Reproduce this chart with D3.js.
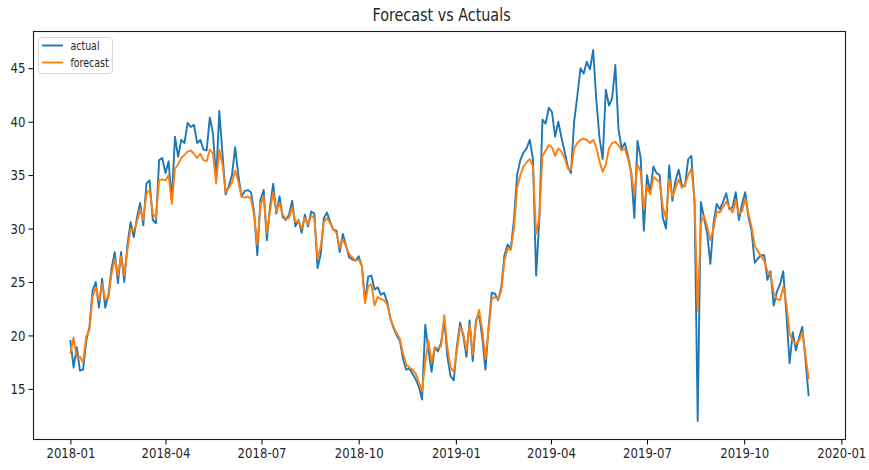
<!DOCTYPE html>
<html>
<head>
<meta charset="utf-8">
<script src="https://cdn.jsdelivr.net/npm/d3@7"></script>
<style>
  html, body { margin: 0; padding: 0; background: #fff; }
  svg { display: block; }
  text { font-family: "DejaVu Sans", sans-serif; fill: #262626; }
</style>
</head>
<body>
<svg id="chart" width="869" height="470"></svg>
<script>
// Series sampled every 3 days starting 2018-01-01
const startDate = new Date(2018, 0, 1);
const stepDays = 3;

const actual = [
  19.5, 17.0, 18.9, 16.7, 16.8, 19.5, 20.8, 24.2, 25.0, 22.6,
  25.3, 22.6, 23.8, 26.3, 27.8, 24.9, 27.8, 25.0, 28.5, 30.6,
  29.2, 31.0, 32.4, 30.3, 34.2, 34.5, 30.8, 30.5, 36.4, 36.6,
  35.2, 36.3, 32.6, 38.6, 36.7, 38.3, 38.0, 39.9, 39.5, 39.7,
  38.0, 38.3, 37.4, 37.3, 40.4, 38.9, 34.6, 41.0, 37.0, 33.2,
  34.0, 35.0, 37.6, 35.0, 33.0, 33.5, 33.6, 33.4, 31.5, 27.5,
  32.7, 33.6, 28.9, 32.0, 34.2, 31.4, 33.0, 31.1, 30.8, 31.3,
  32.6, 30.2, 30.8, 29.6, 31.3, 30.2, 31.6, 31.4, 26.3, 27.6,
  31.0, 31.5, 30.6, 29.9, 29.8, 27.8, 29.5, 28.4, 27.3, 27.1,
  27.0, 27.4, 26.5, 23.2, 25.5, 25.6, 24.3, 24.5, 23.8, 24.0,
  23.1, 21.6, 20.7, 20.0, 19.5, 17.8, 16.8, 16.9, 16.4, 15.9,
  15.2, 14.0, 21.0, 18.6, 16.6, 18.9, 18.5, 19.3, 21.5, 18.0,
  16.2, 15.8, 19.0, 21.2, 20.0, 18.0, 21.4, 17.6, 21.4, 22.0,
  19.8, 16.8, 20.8, 24.0, 23.9, 23.3, 24.5, 27.5, 28.5, 28.1,
  30.8, 35.0, 36.4, 37.1, 37.5, 38.3, 36.5, 25.6, 30.8, 40.2,
  39.8, 41.3, 40.9, 38.6, 40.0, 38.5, 37.2, 35.8, 35.2, 40.0,
  42.4, 45.0, 44.5, 45.6, 44.9, 46.7, 42.0, 38.5, 36.5, 43.0,
  41.5, 42.2, 45.3, 39.3, 37.5, 38.0, 36.8, 35.3, 31.0, 38.2,
  36.6, 29.8, 35.0, 33.4, 35.8, 35.2, 35.0, 31.0, 30.0, 35.9,
  32.6, 34.5, 35.5, 34.0, 34.0, 36.5, 36.8, 32.4, 12.0, 32.5,
  31.0, 29.5, 26.7, 30.5, 32.3, 31.8, 32.5, 33.3, 31.8, 32.0,
  33.4, 30.8, 32.3, 33.4, 31.1, 29.8, 26.8, 27.2, 27.5, 27.5,
  25.2, 26.0, 22.8, 24.1, 24.8, 26.0, 22.0, 17.4, 20.3, 18.6,
  19.8, 20.8, 17.8, 14.4
];

const forecast = [
  18.4, 19.8, 17.9, 18.0, 17.5, 19.9, 20.5, 23.6, 24.5, 23.3,
  24.8, 23.4, 23.5, 25.8, 27.2, 25.6, 27.4, 25.6, 28.0, 30.0,
  29.8, 30.6, 31.8, 30.8, 33.3, 33.6, 31.4, 31.0, 34.5, 34.6,
  34.5, 35.0, 32.3, 35.6, 36.0, 36.6, 36.9, 37.2, 37.3, 37.0,
  36.6, 37.0, 36.4, 36.3, 37.4, 37.0, 34.2, 37.4, 36.0, 33.4,
  33.8, 34.3, 35.4, 34.4, 33.0, 32.9, 33.0, 32.8, 31.2, 28.5,
  32.2, 33.0, 29.6, 31.6, 33.4, 31.6, 32.4, 31.3, 30.9, 31.0,
  32.0, 30.6, 30.7, 30.0, 31.0, 30.4, 31.2, 31.0, 27.2, 28.3,
  30.6, 31.0, 30.5, 29.9, 29.6, 28.2, 29.0, 28.3, 27.6, 27.3,
  27.0, 27.1, 26.5, 23.0, 24.6, 24.8, 22.8, 23.6, 23.4, 23.3,
  22.9, 21.6, 20.8, 20.2, 19.7, 18.3, 17.3, 17.0, 16.8, 16.4,
  15.6, 14.8, 17.5, 19.5, 17.5, 18.8, 18.8, 19.0, 21.9, 18.8,
  17.0, 16.6, 18.6, 20.8, 20.2, 18.6, 21.0, 18.2, 21.2, 22.4,
  20.5, 17.8, 20.5, 23.4, 23.6, 23.4, 24.2, 27.0, 28.1, 28.0,
  30.0, 33.8, 35.0, 35.8, 36.2, 36.5, 35.8, 29.5, 31.0, 36.8,
  37.3, 37.8, 37.6, 36.8, 37.5, 37.2, 36.6, 35.6, 35.5, 37.5,
  38.0, 38.3, 38.4, 38.3, 38.0, 38.3, 37.6, 36.3, 35.3, 36.0,
  37.5, 38.0, 38.1, 37.8, 37.3, 37.5, 36.5, 35.2, 33.2, 36.0,
  35.3, 31.8, 34.0, 33.2, 34.8, 34.6, 34.3, 32.0, 31.0, 34.6,
  33.0, 33.8, 34.6, 33.8, 34.1, 35.0, 35.6, 32.7, 22.3, 30.5,
  31.2, 30.2, 28.9, 30.0, 31.6, 31.5, 32.0, 32.5, 32.0, 31.5,
  32.6, 31.4, 31.6, 32.8, 31.4, 30.2, 28.4, 27.9, 27.4, 27.0,
  26.0, 25.7, 24.0, 23.4, 23.3, 24.6, 23.0, 20.2, 19.5, 19.2,
  19.5, 20.3, 18.2, 16.0
];

const yTicks = [15, 20, 25, 30, 35, 40, 45];
const xTickDates = ["2018-01", "2018-04", "2018-07", "2018-10", "2019-01",
                    "2019-04", "2019-07", "2019-10", "2020-01"];
const seriesNames = ["actual", "forecast"];
const seriesColors = ["#1f77b4", "#ff7f0e"];
const titleText = "Forecast vs Actuals";

// ---- layout ----
const svg = d3.select("#chart");
const plot = { left: 33.5, right: 845.5, top: 31.5, bottom: 439.5 };
const squeeze = 0.82; // narrow text width

const dates = actual.map((_, i) => d3.timeDay.offset(startDate, i * stepDays));

// 5% padding on both axes around the data extent
const t0 = dates[0].getTime(), t1 = dates[dates.length - 1].getTime();
const tPad = (t1 - t0) * 0.05;
const x = d3.scaleTime()
  .domain([new Date(t0 - tPad), new Date(t1 + tPad)])
  .range([plot.left, plot.right]);

const allVals = actual.concat(forecast);
const vMin = d3.min(allVals), vMax = d3.max(allVals);
const vPad = (vMax - vMin) * 0.05;
const y = d3.scaleLinear()
  .domain([vMin - vPad, vMax + vPad])
  .range([plot.bottom, plot.top]);

const parseMonth = d3.timeParse("%Y-%m");

// x axis
const xAxis = svg.append("g")
  .attr("transform", `translate(0,${plot.bottom})`)
  .call(d3.axisBottom(x)
    .tickValues(xTickDates.map(parseMonth))
    .tickFormat(d3.timeFormat("%Y-%m"))
    .tickSize(5).tickPadding(3));
xAxis.select(".domain").remove();
xAxis.selectAll(".tick line").attr("stroke", "#000").attr("stroke-width", 1);
xAxis.selectAll(".tick text")
  .attr("font-size", 14.3)
  .attr("font-family", "DejaVu Sans, sans-serif")
  .attr("fill", "#262626")
  .attr("transform", `scale(${squeeze},1)`);

// y axis
const yAxis = svg.append("g")
  .attr("transform", `translate(${plot.left},0)`)
  .call(d3.axisLeft(y).tickValues(yTicks).tickSize(5).tickPadding(3));
yAxis.select(".domain").remove();
yAxis.selectAll(".tick line").attr("stroke", "#000").attr("stroke-width", 1);
yAxis.selectAll(".tick text")
  .attr("font-size", 14.3)
  .attr("font-family", "DejaVu Sans, sans-serif")
  .attr("fill", "#262626")
  .attr("x", -8 / squeeze)
  .attr("transform", `scale(${squeeze},1)`);

// lines
const line = d3.line()
  .x((d, i) => x(dates[i]))
  .y(d => y(d));

const clip = svg.append("clipPath").attr("id", "plotclip")
  .append("rect")
  .attr("x", plot.left).attr("y", plot.top)
  .attr("width", plot.right - plot.left).attr("height", plot.bottom - plot.top);

const lines = svg.append("g").attr("clip-path", "url(#plotclip)");
[actual, forecast].forEach((vals, k) => {
  lines.append("path")
    .datum(vals)
    .attr("fill", "none")
    .attr("stroke", seriesColors[k])
    .attr("stroke-width", 1.9)
    .attr("stroke-linejoin", "round")
    .attr("stroke-linecap", "square")
    .attr("d", line);
});

// frame
svg.append("rect")
  .attr("x", plot.left).attr("y", plot.top)
  .attr("width", plot.right - plot.left).attr("height", plot.bottom - plot.top)
  .attr("fill", "none").attr("stroke", "#1a1a1a").attr("stroke-width", 1.1);

// title
svg.append("text")
  .attr("transform", `translate(${(plot.left + plot.right) / 2 + 2},21) scale(${squeeze},1)`)
  .attr("text-anchor", "middle")
  .attr("font-size", 17.5)
  .text(titleText);

// legend
const legend = svg.append("g").attr("transform", `translate(${plot.left + 5},${plot.top + 6})`);
legend.append("rect")
  .attr("x", 0).attr("y", 0).attr("width", 74).attr("height", 36)
  .attr("rx", 3).attr("ry", 3)
  .attr("fill", "#fff").attr("fill-opacity", 0.8)
  .attr("stroke", "#d6d6d6").attr("stroke-width", 1);
seriesNames.forEach((name, k) => {
  const ly = 8 + k * 17;
  legend.append("line")
    .attr("x1", 3.5).attr("x2", 24.5).attr("y1", ly).attr("y2", ly)
    .attr("stroke", seriesColors[k]).attr("stroke-width", 1.9);
  legend.append("text")
    .attr("transform", `translate(32,${ly + 4}) scale(${squeeze},1)`)
    .attr("font-size", 11.5)
    .text(name);
});
</script>
</body>
</html>
